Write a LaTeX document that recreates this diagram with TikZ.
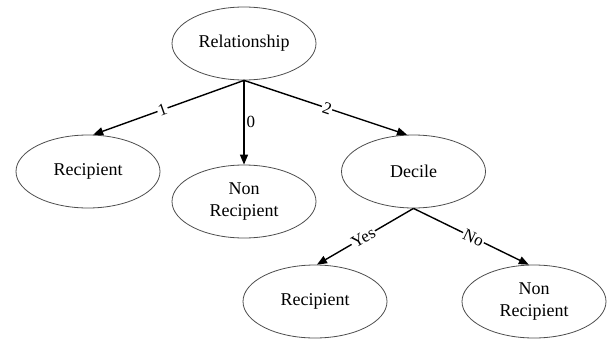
\documentclass[tikz,border=0pt]{standalone}
\usepackage{fontspec}
\setmainfont{Liberation Serif}
\usetikzlibrary{shapes.geometric,arrows.meta}
\begin{document}
\begin{tikzpicture}[x=1pt,y=-1pt,
  nodebox/.style={ellipse,draw=black!70,line width=0.8pt,minimum width=144pt,minimum height=73pt,inner sep=0pt,align=center,font=\fontsize{18}{21.5}\selectfont},
  edge/.style={line width=1.4pt,-{Triangle[length=10pt,width=8pt]}},
  elabel/.style={font=\fontsize{17}{20}\selectfont,fill=white,inner sep=1pt,sloped}
]
\useasboundingbox (0,0) rectangle (609,340);
\node[nodebox] (rel) at (244,43.5) {Relationship};
\node[nodebox] (rec1) at (88,171.5) {Recipient};
\node[nodebox] (non1) at (244,201.5) {Non\\Recipient};
\node[nodebox] (dec) at (413.5,171.5) {Decile};
\node[nodebox] (rec2) at (315,301.5) {Recipient};
\node[nodebox] (non2) at (534,301.5) {Non\\Recipient};
\draw[edge] (rel.south) -- node[elabel,pos=0.54] {1} (rec1.82);
\draw[edge] (rel.south) -- node[font=\fontsize{17}{20}\selectfont,right,inner sep=2pt,pos=0.49] {0} (non1.north);
\draw[edge] (rel.south) -- node[elabel,pos=0.51] {2} (dec.100);
\draw[edge] (dec.south) -- node[elabel,pos=0.52] {Yes} (rec2.87);
\draw[edge] (dec.south) -- node[elabel,pos=0.52] {No} (non2.98);
\end{tikzpicture}
\end{document}
